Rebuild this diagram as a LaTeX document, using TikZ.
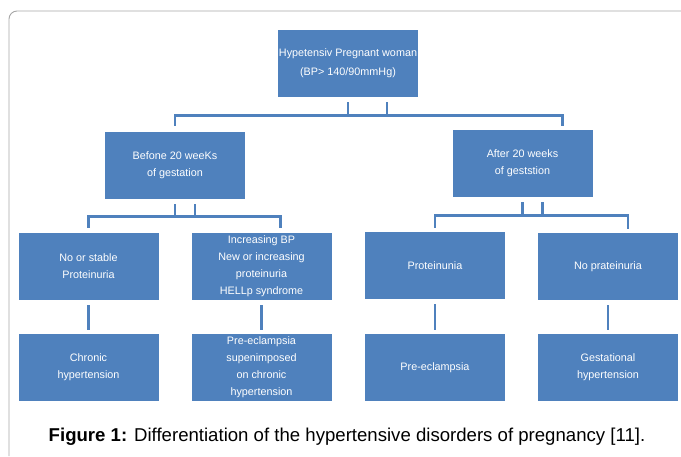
\documentclass[tikz,border=0pt]{standalone}
\usepackage{fontspec}
\setmainfont{Liberation Sans}
\usepackage{tikz}
\definecolor{boxblue}{HTML}{4F81BD}
\definecolor{framegray}{HTML}{A6A6A6}

\begin{document}
\begin{tikzpicture}[x=1pt, y=1pt,
        box/.style={fill=boxblue, text=white, minimum width=140pt, minimum height=67pt,
            inner sep=0pt, align=center, font=\fontsize{10.8}{16.9}\selectfont},
        link/.style={draw=boxblue, line width=2.6pt}]
        \useasboundingbox (0,0) rectangle (681,-457);
        \draw[framegray, line width=0.9pt, rounded corners=8pt] (9,-456) -- (9,-11) -- (690,-11);
        \node[box, font=\fontsize{10.8}{19}\selectfont] (top) at (348,-63.5) {Hypetensiv Pregnant woman\\(BP> 140/90mmHg)};
        \node[box] (before) at (175,-165.5) {Befone 20 weeKs\\of gestation};
        \node[box] (after) at (522.5,-163.5) {After 20 weeks\\of geststion};
        \node[box] (stable) at (88.5,-266.5) {No or stable\\Proteinuria};
        \node[box] (increasing) at (261.5,-266.5) {Increasing BP\\New or increasing\\proteinuria\\HELLp syndrome};
        \node[box] (prot) at (435,-265.5) {Proteinunia};
        \node[box] (noprot) at (608,-266.5) {No prateinuria};
        \node[box] (chronic) at (88.5,-367.5) {Chronic\\hypertension};
        \node[box] (superimposed) at (261.5,-367.5) {Pre-eclampsia\\supenimposed\\on chronic\\hypertension};
        \node[box] (preecl) at (435,-367.5) {Pre-eclampsia};
        \node[box] (gest) at (608,-367.5) {Gestational\\hypertension};
        \draw[link] ([yshift=-5pt]top.south) -- ++(0,-14);
        \draw[link] ([xshift=39pt, yshift=-5pt]top.south) -- ++(0,-14);
        \draw[link] ([yshift=6pt]before.north) -- ++(0,10) -| ([xshift=40pt, yshift=4pt]after.north);
        \draw[link] ([yshift=-5pt]before.south) -- ++(0,-14);
        \draw[link] ([xshift=20pt, yshift=-5pt]before.south) -- ++(0,-14);
        \draw[link] ([yshift=5pt]stable.north) -- ++(0,11) -| ([xshift=19pt, yshift=5pt]increasing.north);
        \draw[link] ([yshift=-5pt]after.south) -- ++(0,-15);
        \draw[link] ([xshift=20pt, yshift=-5pt]after.south) -- ++(0,-15);
        \draw[link] ([yshift=4pt]prot.north) -- ++(0,12) -| ([xshift=20pt, yshift=4pt]noprot.north);
        \draw[link] ([yshift=-5pt]stable.south) -- ([yshift=4pt]chronic.north);
        \draw[link] ([yshift=-5pt]increasing.south) -- ([yshift=4pt]superimposed.north);
        \draw[link] ([yshift=-5pt]prot.south) -- ([yshift=4pt]preecl.north);
        \draw[link] ([yshift=-5pt]noprot.south) -- ([yshift=4pt]gest.north);
        \node[anchor=base, font=\fontsize{18.6}{20}\selectfont, inner sep=0pt] (caption) at (347,-442) {\textbf{Figure 1:} Differentiation of the hypertensive disorders of pregnancy [11].};
    \end{tikzpicture}
\end{document}
